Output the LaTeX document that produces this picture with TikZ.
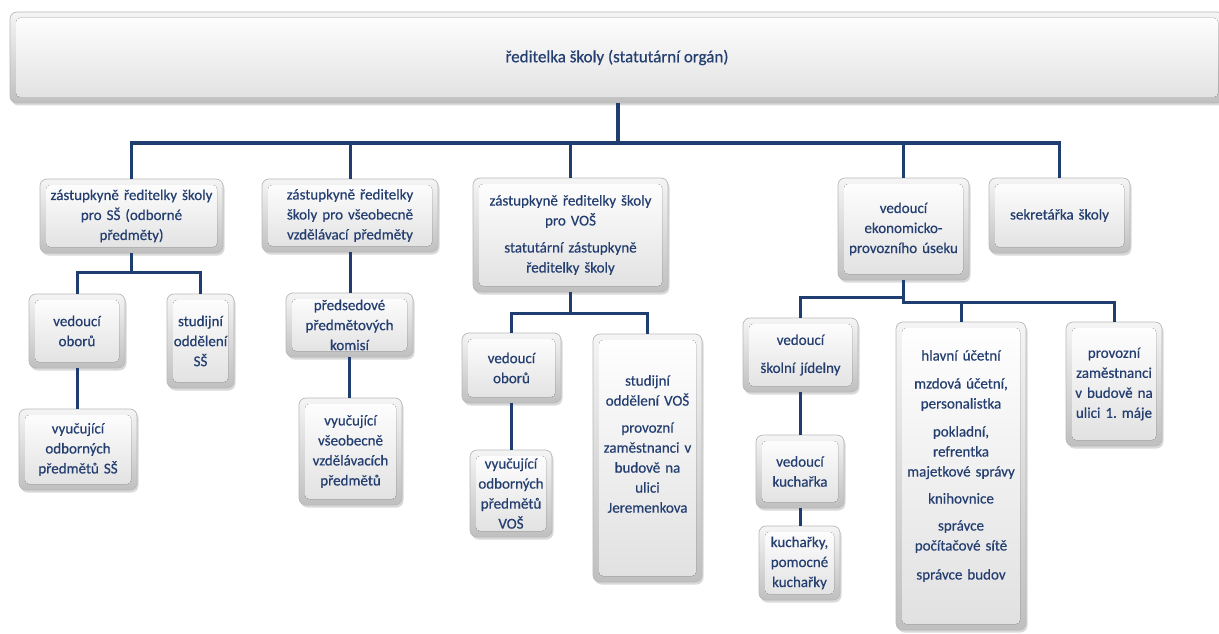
\documentclass[tikz,border=0pt]{standalone}
\usepackage{fontspec}
\setmainfont[FakeBold=0.5]{Carlito}
\usetikzlibrary{shadows}
\definecolor{txtblue}{RGB}{36,62,112}
\definecolor{lineblue}{RGB}{30,62,112}
\tikzset{
  orgbox/.style={draw=gray!55, line width=0.7pt, rounded corners=7pt,
    top color=gray!8, bottom color=gray!50,
    drop shadow={opacity=0.3, shadow xshift=1.5pt, shadow yshift=-2.5pt, fill=gray},
    path picture={\fill[rounded corners=4pt, top color=white, bottom color=gray!24]
      ([shift={(6pt,-6pt)}]path picture bounding box.north west) rectangle
      ([shift={(-6pt,6pt)}]path picture bounding box.south east);},
    inner sep=0pt},
  boxtext/.style={text=txtblue, align=center, inner sep=0pt,
    font=\fontsize{15}{20}\selectfont},
  conn/.style={draw=lineblue, line width=3pt}
}
% [yshift] name, x1, y1, x2, y2, text
\newcommand\orgbox[7][0]{%
  \pgfmathsetmacro\bxw{#5-#3}\pgfmathsetmacro\bxh{#6-#4}%
  \pgfmathsetmacro\bxcx{(#3+#5)/2}\pgfmathsetmacro\bxcy{(#4+#6)/2}%
  \node[orgbox, minimum width=\bxw pt, minimum height=\bxh pt] (#2) at (\bxcx,\bxcy) {};
  \node[boxtext, text width=\bxw pt] (#2t) at ([yshift=#1pt]#2.center) {#7};}
\begin{document}
\begin{tikzpicture}[x=1pt,y=-1pt]
\useasboundingbox (0,0) rectangle (1219,634);
\node[orgbox, minimum width=1214pt, minimum height=91pt] (top) at (617,57.5) {};
\node[boxtext, font=\fontsize{17}{20}\selectfont] (topt) at (top.center) {ředitelka školy (statutární orgán)};
\orgbox{a1}{40}{179}{223}{253}{zástupkyně ředitelky školy\\pro SŠ (odborné\\předměty)}
\orgbox{a2}{262}{179}{438}{252}{zástupkyně ředitelky\\školy pro všeobecně\\vzdělávací předměty}
\orgbox{a3}{473}{178}{668}{292}{zástupkyně ředitelky školy\\pro VOŠ\\[7pt]statutární zástupkyně\\ředitelky školy}
\orgbox{a4}{838}{178}{969}{280}{vedoucí\\ekonomicko-\\provozního úseku}
\orgbox{a5}{989}{178}{1130}{253}{sekretářka školy}
\orgbox{b1}{29}{294}{125}{368}{vedoucí\\oborů}
\orgbox{b2}{167}{294}{234}{388}{studijní\\oddělení\\SŠ}
\orgbox{c1}{19}{409}{137}{490}{vyučující\\odborných\\předmětů SŠ}
\orgbox{d1}{286}{293}{413}{357}{předsedové\\předmětových\\komisí}
\orgbox{d2}{299}{398}{402}{505}{vyučující\\všeobecně\\vzdělávacích\\předmětů}
\orgbox{e1}{462}{333}{561}{403}{vedoucí\\oborů}
\orgbox[14]{e2}{593}{334}{702}{582}{studijní\\oddělení VOŠ\\[7pt]provozní\\zaměstnanci v\\budově na\\ulici\\Jeremenkova}
\orgbox{e3}{470}{450}{552}{537}{vyučující\\odborných\\předmětů\\VOŠ}
\orgbox{f1}{743}{318}{858}{392}{vedoucí\\[8pt]školní jídelny}
\orgbox[10]{f2}{896}{322}{1026}{630}{hlavní účetní\\[8pt]mzdová účetní,\\personalistka\\[8pt]pokladní,\\refrentka\\majetkové správy\\[7pt]knihovnice\\[7pt]správce\\počítačové sítě\\[9pt]správce budov}
\orgbox{f3}{1066}{322}{1162}{446}{provozní\\zaměstnanci\\v budově na\\ulici 1.\ máje}
\orgbox{g1}{756}{435}{844}{508}{vedoucí\\kuchařka}
\orgbox{g2}{759}{526}{840}{600}{kuchařky,\\pomocné\\kuchařky}
% connectors
\coordinate (bus) at (131,143);
\coordinate (busa1) at (131,272);
\coordinate (busa3) at (571,313);
\coordinate (busa4L) at (903,297);
\coordinate (busa4R) at (903,302);
\coordinate (topdrop) at (618,103);
\draw[conn, line width=3.5pt] (topdrop) -- (topdrop |- bus);
\draw[conn, line width=3.5pt] (a1.north) -- (a1.north |- bus) -- (a5.north |- bus) -- (a5.north);
\draw[conn] (a2.north) -- (a2.north |- bus);
\draw[conn] (a3.north) -- (a3.north |- bus);
\draw[conn] (a4.north) -- (a4.north |- bus);
\draw[conn] (a1.south) -- (a1.south |- busa1);
\draw[conn] (b1.north) -- (b1.north |- busa1) -- (b2.north |- busa1) -- (b2.north);
\draw[conn] (b1.south) -- (b1.south |- c1.north);
\draw[conn] (a2.south) -- (a2.south |- d1.north);
\draw[conn] (d1.south) -- (d1.south |- d2.north);
\draw[conn] (a3.south) -- (a3.south |- busa3);
\draw[conn] (e1.north) -- (e1.north |- busa3) -- (e2.north |- busa3) -- (e2.north);
\draw[conn] (e1.south) -- (e1.south |- e3.north);
\draw[conn] (a4.south) -- (a4.south |- busa4R);
\draw[conn] (f1.north) -- (f1.north |- busa4L) -- (busa4L) -- (busa4R) -- (f3.north |- busa4R) -- (f3.north);
\draw[conn] (f2.north) -- (f2.north |- busa4R);
\draw[conn] (f1.south) -- (f1.south |- g1.north);
\draw[conn] (g1.south) -- (g1.south |- g2.north);
\end{tikzpicture}
\end{document}
